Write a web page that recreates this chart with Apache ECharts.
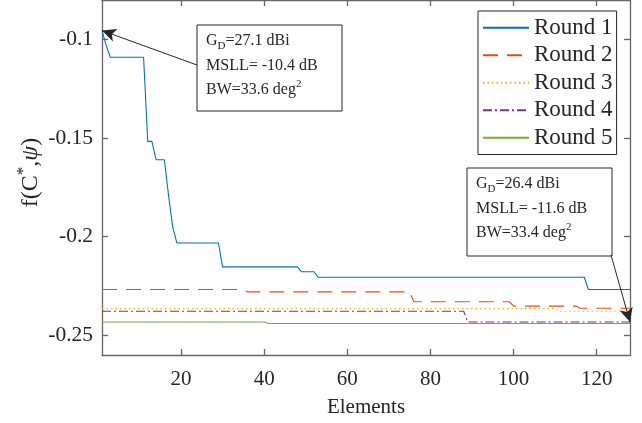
<!DOCTYPE html>
<html>
<head>
<meta charset="utf-8">
<script src="https://cdn.jsdelivr.net/npm/echarts@6/dist/echarts.min.js"></script>
<style>
  html, body { margin: 0; padding: 0; background: #fff; }
  #chart { width: 642px; height: 423px; }
</style>
</head>
<body>
<div id="chart"></div>
<script>
// values: [element, f]
const round1 = [[1, -0.0955], [2, -0.103], [3, -0.109], [11, -0.109], [12, -0.1517], [13, -0.1517],
  [14, -0.161], [16, -0.161], [17, -0.179], [18, -0.195], [19, -0.2032], [29, -0.2032],
  [30, -0.2153], [48, -0.2153], [49, -0.2178], [52, -0.2178], [53, -0.2206], [117, -0.2206],
  [118, -0.2268], [128, -0.2268]];
const round2 = [[1, -0.2268], [35, -0.2268], [36, -0.228], [75, -0.228], [76, -0.233], [99, -0.233],
  [100, -0.2352], [115, -0.2352], [116, -0.2363], [128, -0.2363]];
const round3 = [[1, -0.2365], [110, -0.2365], [111, -0.2378], [128, -0.2378]];
const round4 = [[1, -0.2378], [88, -0.2378], [89, -0.2433], [128, -0.2433]];
const round5 = [[1, -0.2433], [40, -0.2433], [41, -0.244], [128, -0.244]];

const seriesNames = ["Round 1", "Round 2", "Round 3", "Round 4", "Round 5"];
const xTicks = [20, 40, 60, 80, 100, 120];
const yTicks = [-0.25, -0.2, -0.15, -0.1];

const FONT = "Liberation Serif";
const INK = "#262626";

const chart = echarts.init(document.getElementById("chart"), null, { renderer: "canvas" });

function line(name, data, color, type) {
  return {
    name: name,
    type: "line",
    data: data,
    symbol: "none",
    animation: false,
    lineStyle: { color: color, width: 1.1, type: type },
    itemStyle: { color: color },
    emphasis: { disabled: true }
  };
}

function arrow(from, to) {
  return {
    silent: true,
    animation: false,
    symbol: ["none", "arrow"],
    symbolSize: [10, 14],
    label: { show: false },
    lineStyle: { color: INK, width: 1, type: "solid" },
    emphasis: { disabled: true },
    data: [[{ x: from[0], y: from[1] }, { coord: to }]]
  };
}

const boxRich = {
  sub: { fontSize: 11, fontFamily: FONT, fill: INK, padding: [10, 0, 0, 0] },
  sup: { fontSize: 11, fontFamily: FONT, fill: INK, padding: [0, 0, 12, 0] }
};

function noteBox(x, y, w, h, lines) {
  return {
    type: "group",
    left: x,
    top: y,
    children: [
      { type: "rect", shape: { x: 0, y: 0, width: w, height: h },
        style: { fill: "#fff", stroke: INK, lineWidth: 1 } },
      { type: "text", x: 9, y: 4,
        style: { text: lines.join("\n"), font: "16px " + FONT, fill: INK,
                 lineHeight: 24.5, rich: boxRich } }
    ]
  };
}

const s1 = line(seriesNames[0], round1, "#0072BD", "solid");
s1.markLine = arrow([197, 65], [1, -0.0955]);
const s5 = line(seriesNames[4], round5, "#77AC30", "solid");
s5.markLine = arrow([611, 255], [128, -0.2433]);

const axisLineStyle = { color: "#666", width: 1.3 };

chart.setOption({
  backgroundColor: "#fff",
  animation: false,
  grid: { left: 102, right: 12, top: -5, bottom: 68 },
  legend: {
    orient: "vertical",
    left: 478,
    top: 11,
    itemWidth: 46,
    itemHeight: 14,
    itemGap: 0,
    padding: [3, 4, 3, 4],
    borderColor: INK,
    borderWidth: 1,
    backgroundColor: "#fff",
    itemStyle: { opacity: 0 },
    textStyle: { fontFamily: FONT, fontSize: 23, color: INK, lineHeight: 27.5 },
    data: seriesNames
  },
  xAxis: [
    {
      type: "value", min: 1, max: 128,
      name: "Elements", nameLocation: "middle", nameGap: 42,
      nameTextStyle: { fontFamily: FONT, fontSize: 21, color: INK },
      axisLine: { show: true, lineStyle: axisLineStyle },
      axisTick: { show: true, inside: true, length: 6, customValues: xTicks, lineStyle: axisLineStyle },
      axisLabel: { show: true, customValues: xTicks, margin: 14, fontFamily: FONT, fontSize: 21, color: INK },
      splitLine: { show: false }
    },
    {
      type: "value", min: 1, max: 128, position: "top",
      axisLine: { show: true, lineStyle: axisLineStyle },
      axisTick: { show: true, inside: true, length: 6, customValues: xTicks, lineStyle: axisLineStyle },
      axisLabel: { show: false },
      splitLine: { show: false }
    }
  ],
  yAxis: [
    {
      type: "value", min: -0.26, max: -0.08,
      name: "f(C{sup|*},{it|ψ})", nameLocation: "middle", nameGap: 56, nameMoveOverlap: false,
      nameTextStyle: {
        fontFamily: FONT, fontSize: 24, color: INK, padding: [0, 0, 0, 10],
        rich: {
          sup: { fontFamily: FONT, fontSize: 17, color: INK, padding: [0, 0, 14, 0] },
          it: { fontFamily: FONT, fontSize: 24, color: INK, fontStyle: "italic" }
        }
      },
      axisLine: { show: true, lineStyle: axisLineStyle },
      axisTick: { show: true, inside: true, length: 6, customValues: yTicks, lineStyle: axisLineStyle },
      axisLabel: { show: true, customValues: yTicks, margin: 9, fontFamily: FONT, fontSize: 21.5, color: INK },
      splitLine: { show: false }
    },
    {
      type: "value", min: -0.26, max: -0.08, position: "right",
      axisLine: { show: true, lineStyle: axisLineStyle },
      axisTick: { show: true, inside: true, length: 6, customValues: yTicks, lineStyle: axisLineStyle },
      axisLabel: { show: false },
      splitLine: { show: false }
    }
  ],
  series: [
    s1,
    line(seriesNames[1], round2, "#D95319", [15, 9]),
    line(seriesNames[2], round3, "#EDB120", [1.5, 3]),
    line(seriesNames[3], round4, "#7E2F8E", [9, 3, 2, 3]),
    s5
  ],
  graphic: [
    noteBox(196.5, 24.5, 145, 86, ["G{sub|D}=27.1 dBi", "MSLL= -10.4 dB", "BW=33.6 deg{sup|2}"]),
    noteBox(466.5, 167.5, 145, 88, ["G{sub|D}=26.4 dBi", "MSLL= -11.6 dB", "BW=33.4 deg{sup|2}"])
  ]
});
</script>
</body>
</html>
